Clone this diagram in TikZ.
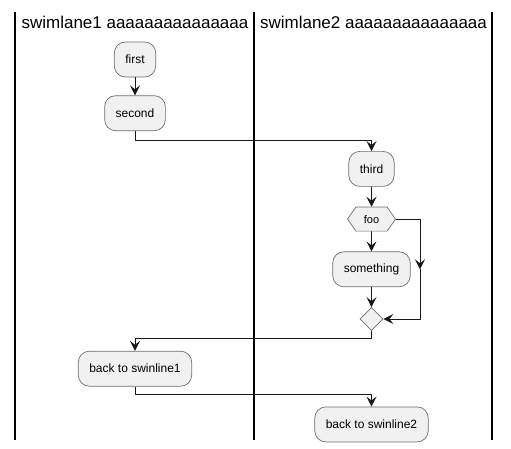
\documentclass[tikz,border=0pt]{standalone}
\usepackage{fontspec}
\setmainfont{Liberation Sans}
\usetikzlibrary{shapes.geometric, shapes.symbols, arrows.meta, positioning}

\definecolor{boxfill}{HTML}{F1F1F1}
\definecolor{boxline}{HTML}{6E6E6E}
\definecolor{lineblack}{HTML}{181818}

\begin{document}
\begin{tikzpicture}[
    x=1pt, y=-1pt,
    node distance=20pt,
    lane/.style = {draw=black, line width=1.6pt},
    lanetitle/.style = {anchor=base, font=\fontsize{17}{20}\selectfont},
    activity/.style = {rectangle, draw=boxline, fill=boxfill, rounded corners=11pt, line width=0.7pt, minimum height=35pt, inner xsep=11pt, font=\fontsize{12}{14}\selectfont},
    choice/.style = {signal, signal to=east and west, signal pointer angle=110, draw=boxline, fill=boxfill, line width=0.7pt, minimum width=48pt, minimum height=24pt, inner sep=2pt, font=\fontsize{11}{13}\selectfont},
    mergebox/.style = {diamond, draw=boxline, fill=boxfill, line width=0.7pt, minimum size=23pt, inner sep=0pt},
    flow/.style = {draw=lineblack, line width=0.9pt, -{Stealth[length=10pt, width=10pt, inset=4pt]}},
    ]
    \useasboundingbox (0,0) rectangle (511,449);

    % swimlanes
    \foreach \x in {15,254,492}
        \draw[lane] (\x,12) -- (\x,440);
    \node[lanetitle] (title1) at (135,28.5) {swimlane1 aaaaaaaaaaaaaaa};
    \node[lanetitle] (title2) at (373.5,28.5) {swimlane2 aaaaaaaaaaaaaaa};
    \coordinate (c1) at (135,0);
    \coordinate (c2) at (371.5,0);

    % activities
    \node[activity] (first) at (135,59.5) {first};
    \node[activity, below=18pt of first] (second) {second};
    \node[activity, anchor=north] (third) at ([yshift=-20pt]second.south -| c2) {third};
    \node[choice, below=of third] (foo) {foo};
    \node[activity, below=of foo] (something) {something};
    \node[mergebox, below=of something] (endif) {};
    \node[activity, anchor=north] (back1) at ([yshift=-20pt]endif.south -| c1) {back to swinline1};
    \node[activity, anchor=north] (back2) at ([yshift=-20pt]back1.south -| c2) {back to swinline2};
    \coordinate (bypass) at ([xshift=48.5pt]something.center);

    \draw[flow] (first) -- (second);
    \draw[flow] (second.south) -- ++(0,9) -| (third.north);
    \draw[flow] (third) -- (foo);
    \draw[flow] (foo) -- (something);
    \draw[flow] (foo.east) -| (bypass);
    \draw[flow] (bypass) |- (endif.east);
    \draw[flow] (something) -- (endif);
    \draw[flow] (endif.south) -- ++(0,8) -| (back1.north);
    \draw[flow] (back1.south) -- ++(0,8) -| (back2.north);
\end{tikzpicture}
\end{document}
